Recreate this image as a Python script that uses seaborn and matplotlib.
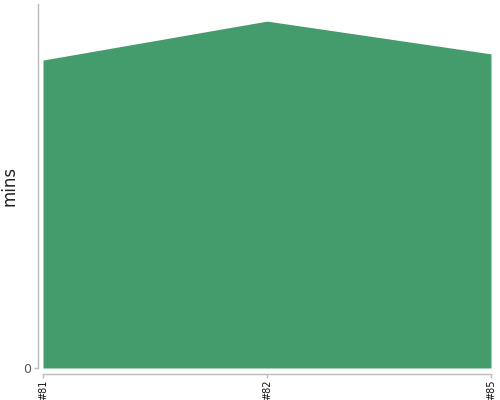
import matplotlib
matplotlib.use("Agg")
import matplotlib.pyplot as plt
import seaborn as sns
import pandas as pd

categories = ["#81", "#82", "#85"]
minutes = [84.6, 95.3, 86.3]

sns.set_theme(style="white")
plt.rcParams['font.family'] = ['DejaVu Sans']

df = pd.DataFrame({"run": categories, "mins": minutes})
df["pos"] = range(len(df))

fig = plt.figure(figsize=(5, 4), dpi=100)
ax = fig.add_axes([43/500, 32/400, 448/500, 364/400])
sns.lineplot(data=df, x="pos", y="mins", ax=ax, color="#449c6d", linewidth=0)
ax.fill_between(df["pos"], 0, df["mins"], color="#449c6d", linewidth=0)
ax.set_xlim(0, len(df) - 1)
ax.set_ylim(0, 100)
ax.set_xticks(df["pos"])
ax.set_xticklabels(categories)
ax.set_yticks([0])
ax.set_yticklabels(["0"])
ax.set_xlabel("")
ax.set_ylabel("mins", fontsize=12, color="#222222")
ax.yaxis.set_label_coords(-0.054, 0.5)
for s in ["top", "right"]:
    ax.spines[s].set_visible(False)
ax.spines["left"].set_position(("outward", 3.5))
ax.spines["bottom"].set_position(("outward", 4))
for s in ["left", "bottom"]:
    ax.spines[s].set_color("#bbbbbb")
    ax.spines[s].set_linewidth(1)
ax.tick_params(axis="both", length=3, width=1, color="#bbbbbb", pad=2,
               bottom=True, left=True)
ax.tick_params(axis="x", labelrotation=90, labelsize=7, labelcolor="#111111", pad=1.5)
ax.tick_params(axis="y", labelsize=9, labelcolor="#555555")
fig.savefig("out.png", dpi=100)
